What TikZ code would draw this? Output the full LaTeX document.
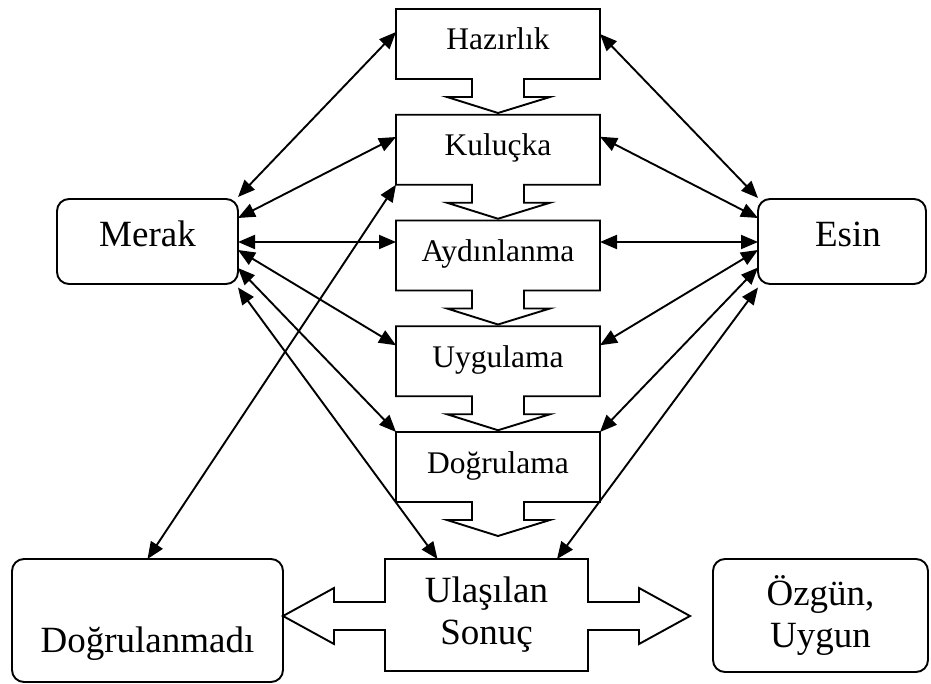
\documentclass[tikz,border=0pt]{standalone}
\usepackage{fontspec}
\setmainfont{Liberation Serif}
\usetikzlibrary{arrows.meta,calc}
\begin{document}
\begin{tikzpicture}[x=1pt,y=-1pt,line width=1.9pt,
  bigfont/.style={font=\fontsize{37}{42}\selectfont},
  stepfont/.style={font=\fontsize{31.5}{36}\selectfont},
  roundbox/.style={draw, rounded corners=12pt, inner sep=0pt, outer sep=0pt, bigfont, align=center},
  stepbox/.style={inner sep=0pt, outer sep=0pt, minimum width=204pt, minimum height=70pt,
                  stepfont, text height=23pt, text depth=11pt},
  link/.style={{Triangle[length=17pt,width=14pt]}-{Triangle[length=17pt,width=14pt]}},
]
\useasboundingbox (0,0) rectangle (931,684);

% side boxes
\node[roundbox, minimum width=181pt, minimum height=85pt, text height=25pt, text depth=14pt]
  (merak) at (147.5,241.5) {Merak};
\node[roundbox, minimum width=168pt, minimum height=85pt, text height=25pt, text depth=14pt]
  (esin) at (842,241.5) {\hspace*{12pt}Esin};
\node[roundbox, minimum width=271pt, minimum height=123pt, text height=63pt, text depth=0pt]
  (dogr) at (147.5,620.5) {Doğrulanmadı};
\node[roundbox, minimum width=215pt, minimum height=113pt]
  (ozgun) at (820.5,615.5) {Özgün,\\Uygun};

% stages: boxes with a downward arrow below each
\foreach \n/\t [count=\i from 0] in {haz/Hazırlık, kul/Kuluçka, ayd/Aydınlanma, uyg/Uygulama, dog/Doğrulama} {
  \node[stepbox] (\n) at (498, 44+105.75*\i) {\t};
  \draw (\n.north west) -- (\n.north east) -- (\n.south east) -- ++(-76,0) -- ++(0,18)
        -- ++(26,0) -- ++(-52,16) -- ++(-51,-16) -- ++(25,0) -- ++(0,-18)
        -- (\n.south west) -- cycle;
}

% result box with arrows to both sides
\node[inner sep=0pt, outer sep=0pt, minimum width=203pt, minimum height=112pt, bigfont, align=center]
  (ula) at (486.5,615) {Ulaşılan\\Sonuç};
\draw (ula.north west) -- (ula.north east) -- ++(0,43) -- ++(51,0) -- ++(0,-14) -- ++(51,28)
      -- ++(-51,28) -- ++(0,-14) -- ++(-51,0) -- (ula.south east) -- (ula.south west)
      -- ++(0,-41) -- ++(-51,0) -- ++(0,14) -- ++(-51,-28) -- ++(51,-28) -- ++(0,14)
      -- ++(51,0) -- cycle;

% links to Merak
\draw[link] ($(merak.east)+(0,-44.5)$) -- ($(haz.west)+(0,-12)$);
\draw[link] ($(merak.east)+(0,-23.5)$) -- ($(kul.west)+(0,-12.75)$);
\draw[link] ($(merak.east)+(0,0.5)$) -- ($(ayd.west)+(0,-13.5)$);
\draw[link] ($(merak.east)+(0,8.5)$) -- ($(uyg.west)+(0,-16)$);
\draw[link] ($(merak.east)+(0,26.5)$) -- (dog.north west);
\draw[link] ($(merak.east)+(0,46)$) -- ($(ula.north)+(-49,0)$);
\draw[link] (dogr.north) -- (kul.south west);

% links to Esin
\draw[link] ($(haz.east)+(0,-10)$) -- ($(esin.west)+(0,-43.5)$);
\draw[link] ($(kul.east)+(0,-13)$) -- ($(esin.west)+(0,-23.5)$);
\draw[link] ($(ayd.east)+(0,-13.5)$) -- ($(esin.west)+(0,0.5)$);
\draw[link] ($(uyg.east)+(0,-16)$) -- ($(esin.west)+(0,8.5)$);
\draw[link] (dog.north east) -- ($(esin.west)+(0,26)$);
\draw[link] ($(ula.north)+(70.5,0)$) -- ($(esin.west)+(0,46)$);
\end{tikzpicture}
\end{document}
